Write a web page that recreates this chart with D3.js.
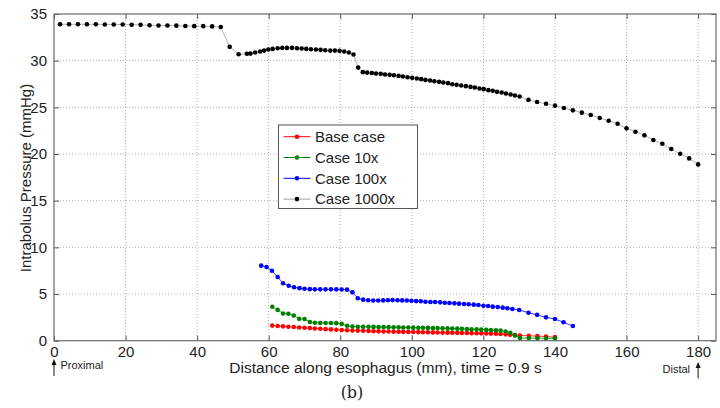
<!DOCTYPE html>
<html>
<head>
<meta charset="utf-8">
<script src="https://cdn.jsdelivr.net/npm/d3@7"></script>
<style>
  html, body { margin: 0; padding: 0; background: #fff; }
  svg { display: block; }
  text { font-family: "Liberation Sans", Arial, Helvetica, sans-serif; fill: #222; }
</style>
</head>
<body>
<svg id="chart" width="720" height="408"></svg>
<script>
// Intrabolus pressure along the esophagus at t = 0.9 s, four viscosity cases.
// Each entry is [distance (mm), pressure (mmHg)].
const baseCase = [
  [61.0,1.62],[62.5,1.58],[64.0,1.54],[65.5,1.50],[67.0,1.46],[68.5,1.42],[70.0,1.38],[71.5,1.35],
  [72.9,1.31],[74.4,1.28],[75.9,1.24],[77.4,1.21],[78.9,1.18],[80.4,1.14],[81.9,1.12],[83.4,1.10],
  [84.9,1.08],[86.4,1.06],[87.9,1.04],[89.3,1.02],[90.7,1.00],[92.1,0.99],[93.5,0.98],[94.9,0.97],
  [96.3,0.96],[97.6,0.95],[99.0,0.94],[100.4,0.93],[101.8,0.92],[103.1,0.91],[104.5,0.90],[105.9,0.89],
  [107.2,0.88],[108.6,0.87],[110.0,0.86],[111.3,0.85],[112.7,0.84],[114.0,0.83],[115.4,0.82],[116.7,0.81],
  [118.1,0.80],[119.4,0.79],[120.8,0.78],[122.1,0.76],[123.5,0.74],[124.8,0.72],[126.2,0.68],[127.5,0.64],
  [128.8,0.60],[130.2,0.56],[132.7,0.53],[135.1,0.49],[137.5,0.44],[140.0,0.38]
];
const case10x = [
  [61.0,3.63],[62.5,3.30],[64.0,2.92],[65.5,2.88],[67.0,2.70],[68.5,2.34],[70.0,2.32],[71.5,2.00],
  [72.9,1.92],[74.4,1.90],[75.9,1.89],[77.4,1.89],[78.9,1.88],[80.4,1.80],[81.9,1.60],[83.4,1.52],
  [84.9,1.50],[86.4,1.49],[87.9,1.49],[89.3,1.48],[90.7,1.47],[92.1,1.46],[93.5,1.45],[94.9,1.44],
  [96.3,1.43],[97.6,1.42],[99.0,1.41],[100.4,1.40],[101.8,1.39],[103.1,1.38],[104.5,1.37],[105.9,1.36],
  [107.2,1.35],[108.6,1.33],[110.0,1.32],[111.3,1.30],[112.7,1.29],[114.0,1.27],[115.4,1.25],[116.7,1.23],
  [118.1,1.21],[119.4,1.19],[120.8,1.17],[122.1,1.15],[123.5,1.12],[124.8,1.08],[126.2,0.98],[127.5,0.85],
  [128.8,0.55],[130.2,0.30],[132.7,0.28],[135.1,0.27],[137.5,0.26],[140.0,0.26]
];
const case100x = [
  [57.9,8.04],[59.4,7.90],[60.9,7.50],[62.5,6.82],[64.0,6.16],[65.6,5.88],[67.1,5.73],[68.6,5.63],
  [70.0,5.56],[71.5,5.52],[72.9,5.50],[74.4,5.50],[75.9,5.50],[77.4,5.50],[78.9,5.50],[80.4,5.48],
  [81.9,5.47],[83.4,5.18],[84.9,4.54],[86.4,4.40],[87.8,4.33],[89.2,4.30],[90.6,4.31],[92.0,4.32],
  [93.3,4.34],[94.6,4.35],[96.0,4.33],[97.3,4.32],[98.6,4.30],[99.9,4.27],[101.2,4.24],[102.5,4.22],
  [103.8,4.18],[105.2,4.15],[106.5,4.15],[107.9,4.11],[109.2,4.07],[110.5,4.04],[111.9,4.00],[113.2,3.97],
  [114.6,3.93],[115.9,3.90],[117.3,3.86],[118.6,3.82],[120.0,3.75],[121.3,3.72],[122.6,3.65],[124.0,3.61],
  [125.4,3.54],[126.7,3.47],[128.1,3.40],[130.0,3.29],[132.6,3.00],[135.0,2.77],[137.5,2.50],[140.0,2.32],
  [142.4,1.97],[145.0,1.57]
];
const case1000x = [
  [1.7,33.90],[4.2,33.90],[6.7,33.90],[9.2,33.90],[11.7,33.90],[14.2,33.88],[16.7,33.88],[19.2,33.87],
  [21.7,33.85],[24.2,33.84],[26.7,33.80],[29.2,33.76],[31.7,33.77],[34.2,33.75],[36.7,33.72],[39.2,33.70],
  [41.7,33.70],[44.2,33.67],[46.6,33.60],[49.1,31.48],[51.6,30.69],[53.9,30.74],[54.9,30.76],[56.2,30.87],
  [57.6,30.98],[58.7,31.08],[59.9,31.19],[61.1,31.26],[62.5,31.33],[63.8,31.37],[65.1,31.37],[66.5,31.37],
  [67.9,31.33],[69.2,31.30],[70.5,31.26],[71.8,31.23],[73.2,31.19],[74.5,31.16],[75.8,31.12],[77.2,31.08],
  [78.5,31.08],[79.8,31.05],[81.1,30.98],[82.4,30.87],[83.7,30.66],[85.0,29.26],[86.3,28.77],[87.5,28.72],
  [88.8,28.68],[90.0,28.63],[91.3,28.59],[92.5,28.52],[93.8,28.48],[95.0,28.44],[96.3,28.37],[97.5,28.30],
  [98.8,28.23],[100.1,28.16],[101.4,28.09],[102.6,28.02],[103.8,27.94],[105.1,27.87],[106.3,27.80],[107.6,27.73],
  [108.8,27.66],[110.1,27.59],[111.3,27.48],[112.5,27.41],[113.8,27.34],[115.1,27.27],[116.4,27.19],[117.6,27.12],
  [118.9,27.02],[120.1,26.95],[121.4,26.84],[122.6,26.77],[123.8,26.66],[125.1,26.59],[126.3,26.48],[127.6,26.37],
  [128.8,26.27],[130.1,26.16],[132.6,25.80],[135.0,25.57],[137.5,25.39],[140.0,25.18],[142.5,24.93],[145.0,24.68],
  [147.5,24.43],[150.0,24.18],[152.5,23.86],[155.0,23.57],[157.5,23.25],[160.0,22.75],[162.5,22.39],[165.0,22.00],
  [167.5,21.50],[170.0,21.10],[172.5,20.53],[175.0,20.03],[177.5,19.53],[180.0,18.89]
];

const seriesNames = ["Base case", "Case 10x", "Case 100x", "Case 1000x"];
const seriesData = [baseCase, case10x, case100x, case1000x];
const markerColors = ["#ff0000", "#008000", "#0000ff", "#000000"];
const lineColors = ["#ff0000", "#008000", "#0000ff", "#a0a0a0"];

const xTicks = [0, 20, 40, 60, 80, 100, 120, 140, 160, 180];
const yTicks = [0, 5, 10, 15, 20, 25, 30, 35];
const xLabel = "Distance along esophagus (mm), time = 0.9 s";
const yLabel = "Intrabolus Pressure (mmHg)";

const svg = d3.select("#chart");
const plot = { left: 54, top: 14, right: 716, bottom: 340.7 };
const x = d3.scaleLinear().domain([0, 185]).range([plot.left, plot.right]);
const y = d3.scaleLinear().domain([0, 35]).range([plot.bottom, plot.top]);
const W = plot.right - plot.left, H = plot.bottom - plot.top;

// dotted grid
const grid = svg.append("g");
grid.selectAll("line.gx").data(xTicks.filter(d => d > 0)).join("line")
  .attr("x1", d => x(d)).attr("x2", d => x(d))
  .attr("y1", plot.top).attr("y2", plot.bottom)
  .attr("stroke", "#b0b0b0").attr("stroke-width", 1).attr("stroke-dasharray", "1,2");
grid.selectAll("line.gy").data(yTicks.filter(d => d > 0 && d < 35)).join("line")
  .attr("x1", plot.left).attr("x2", plot.right)
  .attr("y1", d => y(d)).attr("y2", d => y(d))
  .attr("stroke", "#b0b0b0").attr("stroke-width", 1).attr("stroke-dasharray", "1,2");

// axes with inward ticks on all four sides
function styleAxis(g) {
  g.select(".domain").remove();
  g.selectAll(".tick line").attr("stroke", "#555").attr("stroke-width", 1);
  g.selectAll(".tick text").attr("font-size", 15).attr("fill", "#222")
    .attr("font-family", "Liberation Sans, Arial, sans-serif");
}
svg.append("g").attr("transform", `translate(0,${plot.bottom})`)
  .call(d3.axisBottom(x).tickValues(xTicks).tickFormat(d3.format("d")).tickSize(-5).tickPadding(5.5))
  .call(styleAxis);
svg.append("g").attr("transform", `translate(0,${plot.top})`)
  .call(d3.axisTop(x).tickValues(xTicks).tickFormat("").tickSize(-5))
  .call(styleAxis);
svg.append("g").attr("transform", `translate(${plot.left},0)`)
  .call(d3.axisLeft(y).tickValues(yTicks).tickFormat(d3.format("d")).tickSize(-5).tickPadding(7))
  .call(styleAxis);
svg.append("g").attr("transform", `translate(${plot.right},0)`)
  .call(d3.axisRight(y).tickValues(yTicks).tickFormat("").tickSize(-5))
  .call(styleAxis);

// plot frame
svg.append("rect").attr("x", plot.left).attr("y", plot.top).attr("width", W).attr("height", H)
  .attr("fill", "none").attr("stroke", "#6a6a6a").attr("stroke-width", 1.2);

// series: thin connecting line plus filled markers
const line = d3.line().x(d => x(d[0])).y(d => y(d[1]));
seriesData.forEach((data, i) => {
  const g = svg.append("g");
  g.append("path").datum(data).attr("d", line)
    .attr("fill", "none").attr("stroke", lineColors[i]).attr("stroke-width", 0.8);
  g.selectAll("circle").data(data).join("circle")
    .attr("cx", d => x(d[0])).attr("cy", d => y(d[1])).attr("r", 2.3)
    .attr("fill", markerColors[i]);
});

// legend
const legend = svg.append("g");
legend.append("rect").attr("x", 278.5).attr("y", 125).attr("width", 139).attr("height", 83.5)
  .attr("fill", "#fff").attr("stroke", "#555").attr("stroke-width", 1);
seriesNames.forEach((name, i) => {
  const cy = 136.7 + i * 20.8;
  legend.append("line").attr("x1", 283.5).attr("x2", 310.5).attr("y1", cy).attr("y2", cy)
    .attr("stroke", lineColors[i]).attr("stroke-width", 1);
  legend.append("circle").attr("cx", 297).attr("cy", cy).attr("r", 2.3).attr("fill", markerColors[i]);
  legend.append("text").attr("x", 315).attr("y", cy + 5.3).attr("font-size", 15).text(name);
});

// axis titles
svg.append("text").attr("x", 385.5).attr("y", 373).attr("text-anchor", "middle")
  .attr("font-size", 15.5).text(xLabel);
svg.append("text").attr("transform", "translate(31,178) rotate(-90)").attr("text-anchor", "middle")
  .attr("font-size", 15).text(yLabel);

// end markers: proximal and distal arrows
const arrows = svg.append("g");
[[0, 359, 376], [180, 362, 378.5]].forEach(([v, y1, y2]) => {
  arrows.append("line").attr("x1", x(v)).attr("x2", x(v)).attr("y1", y2).attr("y2", y1 + 4)
    .attr("stroke", "#111").attr("stroke-width", 1);
  arrows.append("path").attr("d", `M${x(v) - 2.5},${y1 + 6} L${x(v)},${y1} L${x(v) + 2.5},${y1 + 6} Z`)
    .attr("fill", "#111");
});
arrows.append("text").attr("x", 60.5).attr("y", 368.5).attr("font-size", 11).text("Proximal");
arrows.append("text").attr("x", 662.5).attr("y", 373).attr("font-size", 11).text("Distal");

// panel caption
svg.append("text").attr("x", 352).attr("y", 398).attr("text-anchor", "middle")
  .attr("font-size", 16).style("font-family", "'DejaVu Serif', 'Liberation Serif', serif")
  .text("(b)");
</script>
</body>
</html>
